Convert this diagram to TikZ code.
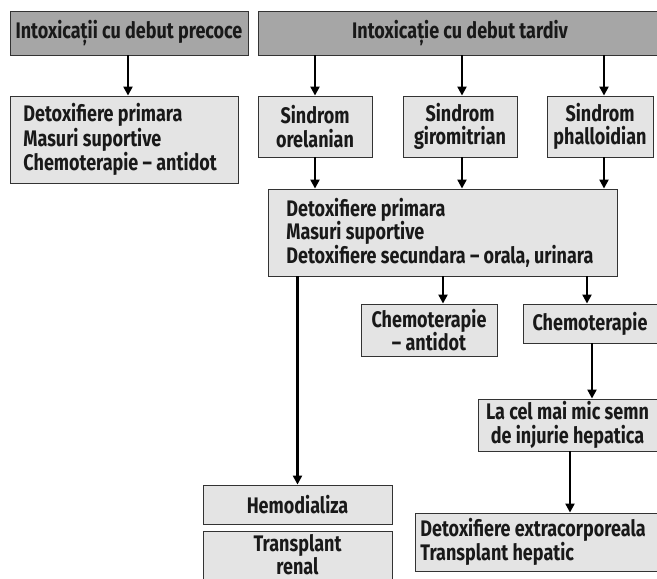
\documentclass[tikz,border=0pt]{standalone}
\usepackage{fontspec}
\setmainfont{Fira Sans}[FakeStretch=0.8]
\usetikzlibrary{arrows.meta}
\definecolor{lightbox}{HTML}{E4E4E4}
\definecolor{darkbox}{HTML}{A6A6A6}
\definecolor{edge}{HTML}{333333}
\tikzset{
  box/.style={draw=edge, line width=0.9pt, fill=lightbox, inner sep=0pt, align=center,
    font=\bfseries\fontsize{22.5pt}{23.5pt}\selectfont, text=black!90},
  headbox/.style={box, fill=darkbox},
  leftbox/.style={box, align=flush left, anchor=west},
  arr/.style={line width=2.2pt, -{Triangle[width=9pt,length=9pt]}}
}
\begin{document}
\begin{tikzpicture}[x=1pt,y=-1pt]
\useasboundingbox (0,0) rectangle (657,579);
\clip (0,0) rectangle (657,579);
% header boxes
\node[headbox, minimum width=238pt, minimum height=44pt] (prec) at (129,33) {Intoxicații cu debut precoce};
\node[headbox, minimum width=404pt, minimum height=44pt] (tard) at (460,33) {Intoxicație cu debut tardiv};
% left box
\node[leftbox, text width=202pt, inner xsep=13pt, minimum height=87pt, font=\bfseries\fontsize{22.5pt}{24.5pt}\selectfont] (left) at (10,139.5) {Detoxifiere primara\\Masuri suportive\\Chemoterapie – antidot};
% syndromes
\node[box, minimum width=114pt, minimum height=61pt] (orel) at (315,126.5) {Sindrom\\orelanian};
\node[box, minimum width=114pt, minimum height=61pt] (giro) at (460,126.5) {Sindrom\\giromitrian};
\node[box, minimum width=106pt, minimum height=61pt] (phal) at (600,126.5) {Sindrom\\phalloidian};
% big box
\node[leftbox, text width=313pt, inner xsep=18pt, minimum height=87pt] (big) at (268,232.5) {Detoxifiere primara\\Masuri suportive\\Detoxifiere secundara – orala, urinara};
% lower boxes
\node[box, minimum width=136pt, minimum height=52pt] (chemoA) at (429,330) {Chemoterapie\\– antidot};
\node[box, minimum width=134pt, minimum height=39pt] (chemo) at (590,323.5) {Chemoterapie};
\node[box, minimum width=179pt, minimum height=52pt] (lacel) at (567.5,425) {La cel mai mic semn\\de injurie hepatica};
\node[leftbox, text width=235pt, inner xsep=5pt, minimum height=58pt] (extra) at (415,542) {Detoxifiere extracorporeala\\Transplant hepatic};
\node[box, minimum width=189pt, minimum height=39pt] (hemo) at (297.5,504.5) {Hemodializa};
\node[box, anchor=north, minimum width=189pt, inner ysep=2.5pt] (trans) at (297.5,531) {Transplant\\renal\\\mbox{}};
% arrows
\draw[arr] ([xshift=-1pt]prec.south) -- ([xshift=-1pt]prec.south |- left.north);
\draw[arr] (tard.south -| orel.north) -- (orel.north);
\draw[arr] ([xshift=2pt]tard.south -| giro.north) -- ([xshift=2pt]giro.north);
\draw[arr] ([xshift=4pt]tard.south -| phal.north) -- ([xshift=4pt]phal.north);
\draw[arr] (orel.south) -- (orel.south |- big.north);
\draw[arr] ([xshift=2pt]giro.south) -- ([xshift=2pt]giro.south |- big.north);
\draw[arr] ([xshift=4pt]phal.south) -- ([xshift=4pt]phal.south |- big.north);
\draw[arr] (big.south -| hemo.north) -- (hemo.north);
\draw[arr] ([xshift=14pt]big.south -| chemoA.north) -- ([xshift=14pt]chemoA.north);
\draw[arr] ([xshift=-3pt]big.south -| chemo.north) -- ([xshift=-3pt]chemo.north);
\draw[arr] ([xshift=24.5pt]chemo.south -| lacel.north) -- ([xshift=24.5pt]lacel.north);
\draw[arr] ([xshift=2.5pt]lacel.south) -- ([xshift=2.5pt]lacel.south |- extra.north);
\end{tikzpicture}
\end{document}
